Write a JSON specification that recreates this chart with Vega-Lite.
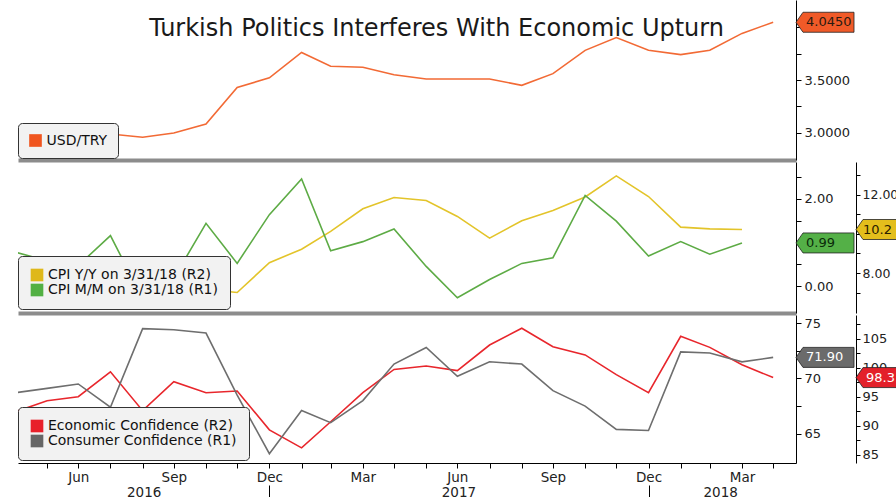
{
  "$schema": "https://vega.github.io/schema/vega-lite/v6.json",
  "background": "white",
  "padding": {"left": 17, "top": 0, "right": 0, "bottom": 0},
  "spacing": 2,
  "config": {
    "font": "DejaVu Sans",
    "view": {"stroke": null},
    "axis": {"grid": false, "title": null, "labelFont": "DejaVu Sans", "labelColor": "#222", "domainColor": "#000", "tickColor": "#000", "labelFlush": false, "labelOverlap": false, "labelBound": false},
    "legend": {"orient": "none", "padding": 12, "fillColor": "#f2f2f2", "strokeColor": "#333", "cornerRadius": 4, "labelFont": "DejaVu Sans", "labelFontSize": 14, "labelColor": "#111", "symbolType": "square", "symbolSize": 160, "symbolStrokeWidth": 0, "rowPadding": 1, "labelOffset": 4, "labelLimit": 400}
  },
  "resolve": {"scale": {"color": "independent"}, "legend": {"color": "independent"}},
  "datasets": {
    "fx": [
      {"date": "2016-04-30", "series": "USD/TRY", "value": 2.83},
      {"date": "2016-05-31", "series": "USD/TRY", "value": 2.95},
      {"date": "2016-06-30", "series": "USD/TRY", "value": 2.88},
      {"date": "2016-07-31", "series": "USD/TRY", "value": 2.99},
      {"date": "2016-08-31", "series": "USD/TRY", "value": 2.96},
      {"date": "2016-09-30", "series": "USD/TRY", "value": 3.00},
      {"date": "2016-10-31", "series": "USD/TRY", "value": 3.085},
      {"date": "2016-11-30", "series": "USD/TRY", "value": 3.43},
      {"date": "2016-12-31", "series": "USD/TRY", "value": 3.52},
      {"date": "2017-01-31", "series": "USD/TRY", "value": 3.76},
      {"date": "2017-02-28", "series": "USD/TRY", "value": 3.63},
      {"date": "2017-03-31", "series": "USD/TRY", "value": 3.62},
      {"date": "2017-04-30", "series": "USD/TRY", "value": 3.55},
      {"date": "2017-05-31", "series": "USD/TRY", "value": 3.51},
      {"date": "2017-06-30", "series": "USD/TRY", "value": 3.51},
      {"date": "2017-07-31", "series": "USD/TRY", "value": 3.51},
      {"date": "2017-08-31", "series": "USD/TRY", "value": 3.45},
      {"date": "2017-09-30", "series": "USD/TRY", "value": 3.56},
      {"date": "2017-10-31", "series": "USD/TRY", "value": 3.78},
      {"date": "2017-11-30", "series": "USD/TRY", "value": 3.90},
      {"date": "2017-12-31", "series": "USD/TRY", "value": 3.78},
      {"date": "2018-01-31", "series": "USD/TRY", "value": 3.74},
      {"date": "2018-02-28", "series": "USD/TRY", "value": 3.78},
      {"date": "2018-03-31", "series": "USD/TRY", "value": 3.94},
      {"date": "2018-04-30", "series": "USD/TRY", "value": 4.045}
    ],
    "cpi": [
      {"date": "2016-04-30", "series": "CPI Y/Y on 3/31/18 (R2)", "value": 6.57},
      {"date": "2016-05-31", "series": "CPI Y/Y on 3/31/18 (R2)", "value": 6.58},
      {"date": "2016-06-30", "series": "CPI Y/Y on 3/31/18 (R2)", "value": 7.64},
      {"date": "2016-07-31", "series": "CPI Y/Y on 3/31/18 (R2)", "value": 8.79},
      {"date": "2016-08-31", "series": "CPI Y/Y on 3/31/18 (R2)", "value": 8.05},
      {"date": "2016-09-30", "series": "CPI Y/Y on 3/31/18 (R2)", "value": 7.28},
      {"date": "2016-10-31", "series": "CPI Y/Y on 3/31/18 (R2)", "value": 7.16},
      {"date": "2016-11-30", "series": "CPI Y/Y on 3/31/18 (R2)", "value": 7.00},
      {"date": "2016-12-31", "series": "CPI Y/Y on 3/31/18 (R2)", "value": 8.53},
      {"date": "2017-01-31", "series": "CPI Y/Y on 3/31/18 (R2)", "value": 9.22},
      {"date": "2017-02-28", "series": "CPI Y/Y on 3/31/18 (R2)", "value": 10.13},
      {"date": "2017-03-31", "series": "CPI Y/Y on 3/31/18 (R2)", "value": 11.29},
      {"date": "2017-04-30", "series": "CPI Y/Y on 3/31/18 (R2)", "value": 11.87},
      {"date": "2017-05-31", "series": "CPI Y/Y on 3/31/18 (R2)", "value": 11.72},
      {"date": "2017-06-30", "series": "CPI Y/Y on 3/31/18 (R2)", "value": 10.90},
      {"date": "2017-07-31", "series": "CPI Y/Y on 3/31/18 (R2)", "value": 9.79},
      {"date": "2017-08-31", "series": "CPI Y/Y on 3/31/18 (R2)", "value": 10.68},
      {"date": "2017-09-30", "series": "CPI Y/Y on 3/31/18 (R2)", "value": 11.20},
      {"date": "2017-10-31", "series": "CPI Y/Y on 3/31/18 (R2)", "value": 11.90},
      {"date": "2017-11-30", "series": "CPI Y/Y on 3/31/18 (R2)", "value": 12.98},
      {"date": "2017-12-31", "series": "CPI Y/Y on 3/31/18 (R2)", "value": 11.92},
      {"date": "2018-01-31", "series": "CPI Y/Y on 3/31/18 (R2)", "value": 10.35},
      {"date": "2018-02-28", "series": "CPI Y/Y on 3/31/18 (R2)", "value": 10.26},
      {"date": "2018-03-31", "series": "CPI Y/Y on 3/31/18 (R2)", "value": 10.23},
      {"date": "2016-04-30", "series": "CPI M/M on 3/31/18 (R1)", "value": 0.78},
      {"date": "2016-05-31", "series": "CPI M/M on 3/31/18 (R1)", "value": 0.58},
      {"date": "2016-06-30", "series": "CPI M/M on 3/31/18 (R1)", "value": 0.47},
      {"date": "2016-07-31", "series": "CPI M/M on 3/31/18 (R1)", "value": 1.16},
      {"date": "2016-08-31", "series": "CPI M/M on 3/31/18 (R1)", "value": -0.29},
      {"date": "2016-09-30", "series": "CPI M/M on 3/31/18 (R1)", "value": 0.18},
      {"date": "2016-10-31", "series": "CPI M/M on 3/31/18 (R1)", "value": 1.44},
      {"date": "2016-11-30", "series": "CPI M/M on 3/31/18 (R1)", "value": 0.52},
      {"date": "2016-12-31", "series": "CPI M/M on 3/31/18 (R1)", "value": 1.64},
      {"date": "2017-01-31", "series": "CPI M/M on 3/31/18 (R1)", "value": 2.46},
      {"date": "2017-02-28", "series": "CPI M/M on 3/31/18 (R1)", "value": 0.81},
      {"date": "2017-03-31", "series": "CPI M/M on 3/31/18 (R1)", "value": 1.02},
      {"date": "2017-04-30", "series": "CPI M/M on 3/31/18 (R1)", "value": 1.31},
      {"date": "2017-05-31", "series": "CPI M/M on 3/31/18 (R1)", "value": 0.45},
      {"date": "2017-06-30", "series": "CPI M/M on 3/31/18 (R1)", "value": -0.27},
      {"date": "2017-07-31", "series": "CPI M/M on 3/31/18 (R1)", "value": 0.15},
      {"date": "2017-08-31", "series": "CPI M/M on 3/31/18 (R1)", "value": 0.52},
      {"date": "2017-09-30", "series": "CPI M/M on 3/31/18 (R1)", "value": 0.65},
      {"date": "2017-10-31", "series": "CPI M/M on 3/31/18 (R1)", "value": 2.08},
      {"date": "2017-11-30", "series": "CPI M/M on 3/31/18 (R1)", "value": 1.49},
      {"date": "2017-12-31", "series": "CPI M/M on 3/31/18 (R1)", "value": 0.69},
      {"date": "2018-01-31", "series": "CPI M/M on 3/31/18 (R1)", "value": 1.02},
      {"date": "2018-02-28", "series": "CPI M/M on 3/31/18 (R1)", "value": 0.73},
      {"date": "2018-03-31", "series": "CPI M/M on 3/31/18 (R1)", "value": 0.99}
    ],
    "conf": [
      {"date": "2016-04-30", "series": "Economic Confidence (R2)", "value": 92.4},
      {"date": "2016-05-31", "series": "Economic Confidence (R2)", "value": 94.3},
      {"date": "2016-06-30", "series": "Economic Confidence (R2)", "value": 95.0},
      {"date": "2016-07-31", "series": "Economic Confidence (R2)", "value": 99.3},
      {"date": "2016-08-31", "series": "Economic Confidence (R2)", "value": 92.6},
      {"date": "2016-09-30", "series": "Economic Confidence (R2)", "value": 97.6},
      {"date": "2016-10-31", "series": "Economic Confidence (R2)", "value": 95.7},
      {"date": "2016-11-30", "series": "Economic Confidence (R2)", "value": 96.0},
      {"date": "2016-12-31", "series": "Economic Confidence (R2)", "value": 89.3},
      {"date": "2017-01-31", "series": "Economic Confidence (R2)", "value": 86.2},
      {"date": "2017-02-28", "series": "Economic Confidence (R2)", "value": 90.7},
      {"date": "2017-03-31", "series": "Economic Confidence (R2)", "value": 95.7},
      {"date": "2017-04-30", "series": "Economic Confidence (R2)", "value": 99.7},
      {"date": "2017-05-31", "series": "Economic Confidence (R2)", "value": 100.3},
      {"date": "2017-06-30", "series": "Economic Confidence (R2)", "value": 99.5},
      {"date": "2017-07-31", "series": "Economic Confidence (R2)", "value": 103.9},
      {"date": "2017-08-31", "series": "Economic Confidence (R2)", "value": 106.8},
      {"date": "2017-09-30", "series": "Economic Confidence (R2)", "value": 103.6},
      {"date": "2017-10-31", "series": "Economic Confidence (R2)", "value": 102.2},
      {"date": "2017-11-30", "series": "Economic Confidence (R2)", "value": 98.8},
      {"date": "2017-12-31", "series": "Economic Confidence (R2)", "value": 95.7},
      {"date": "2018-01-31", "series": "Economic Confidence (R2)", "value": 105.4},
      {"date": "2018-02-28", "series": "Economic Confidence (R2)", "value": 103.5},
      {"date": "2018-03-31", "series": "Economic Confidence (R2)", "value": 100.5},
      {"date": "2018-04-30", "series": "Economic Confidence (R2)", "value": 98.3},
      {"date": "2016-04-30", "series": "Consumer Confidence (R1)", "value": 68.7},
      {"date": "2016-05-31", "series": "Consumer Confidence (R1)", "value": 69.1},
      {"date": "2016-06-30", "series": "Consumer Confidence (R1)", "value": 69.5},
      {"date": "2016-07-31", "series": "Consumer Confidence (R1)", "value": 67.4},
      {"date": "2016-08-31", "series": "Consumer Confidence (R1)", "value": 74.5},
      {"date": "2016-09-30", "series": "Consumer Confidence (R1)", "value": 74.4},
      {"date": "2016-10-31", "series": "Consumer Confidence (R1)", "value": 74.1},
      {"date": "2016-11-30", "series": "Consumer Confidence (R1)", "value": 68.5},
      {"date": "2016-12-31", "series": "Consumer Confidence (R1)", "value": 63.2},
      {"date": "2017-01-31", "series": "Consumer Confidence (R1)", "value": 67.1},
      {"date": "2017-02-28", "series": "Consumer Confidence (R1)", "value": 66.0},
      {"date": "2017-03-31", "series": "Consumer Confidence (R1)", "value": 68.0},
      {"date": "2017-04-30", "series": "Consumer Confidence (R1)", "value": 71.3},
      {"date": "2017-05-31", "series": "Consumer Confidence (R1)", "value": 72.8},
      {"date": "2017-06-30", "series": "Consumer Confidence (R1)", "value": 70.2},
      {"date": "2017-07-31", "series": "Consumer Confidence (R1)", "value": 71.5},
      {"date": "2017-08-31", "series": "Consumer Confidence (R1)", "value": 71.3},
      {"date": "2017-09-30", "series": "Consumer Confidence (R1)", "value": 68.9},
      {"date": "2017-10-31", "series": "Consumer Confidence (R1)", "value": 67.5},
      {"date": "2017-11-30", "series": "Consumer Confidence (R1)", "value": 65.4},
      {"date": "2017-12-31", "series": "Consumer Confidence (R1)", "value": 65.3},
      {"date": "2018-01-31", "series": "Consumer Confidence (R1)", "value": 72.4},
      {"date": "2018-02-28", "series": "Consumer Confidence (R1)", "value": 72.3},
      {"date": "2018-03-31", "series": "Consumer Confidence (R1)", "value": 71.5},
      {"date": "2018-04-30", "series": "Consumer Confidence (R1)", "value": 71.9}
    ]
  },
  "vconcat": [
    {
      "width": 778,
      "height": 160,
      "title": {"text": "Turkish Politics Interferes With Economic Upturn", "font": "DejaVu Sans", "fontSize": 24, "fontWeight": "normal", "color": "#1a1a1a", "anchor": "middle", "frame": "bounds", "offset": -60, "baseline": "alphabetic"},
      "data": {"name": "fx"},
      "encoding": {
        "x": {"field": "date", "type": "temporal", "scale": {"type": "utc", "domain": [{"year": 2016, "month": 5, "date": 3, "utc": true}, {"year": 2018, "month": 5, "date": 22, "utc": true}]}, "axis": {"orient": "bottom", "labels": false, "ticks": false, "domain": true, "domainColor": "#8c8c8c", "domainWidth": 4, "title": null}},
        "y": {"field": "value", "type": "quantitative", "scale": {"domain": [2.745, 4.255], "nice": false, "zero": false}, "axis": {"orient": "right", "values": [3, 3.25, 3.5, 3.75, 4], "labelExpr": "datum.value == 3 || datum.value == 3.5 ? format(datum.value, '.4f') : ''", "tickSize": 5, "labelPadding": 3, "labelFontSize": 13, "labelAlign": "left", "labelBaseline": "middle"}}
      },
      "layer": [
        {"mark": {"type": "line", "strokeWidth": 1.6, "clip": true, "color": "#f26a35"}},
        {"transform": [{"filter": "utcyear(datum.date) == 2018 && utcmonth(datum.date) == 3"}], "mark": {"type": "point", "shape": "M0,0L7,-10L58,-10L58,10L7,10Z", "size": 4, "filled": true, "fill": "#f05a28", "stroke": "#222", "strokeWidth": 0.8, "opacity": 1}, "encoding": {"x": {"value": "width"}}},
        {"transform": [{"filter": "utcyear(datum.date) == 2018 && utcmonth(datum.date) == 3"}], "mark": {"type": "text", "align": "left", "baseline": "middle", "dx": 10, "fontSize": 13, "font": "DejaVu Sans", "color": "#2a1a10"}, "encoding": {"x": {"value": "width"}, "text": {"field": "value", "type": "quantitative", "format": ".4f"}}},
        {"transform": [{"filter": "false"}], "mark": {"type": "square", "opacity": 1, "filled": true}, "encoding": {"color": {"field": "series", "type": "nominal", "scale": {"domain": ["USD/TRY"], "range": ["#f0551f"]}, "legend": {"title": null, "orient": "none", "legendX": 0, "legendY": 123, "padding": 10.5}}}}
      ]
    },
    {
      "width": 778,
      "height": 151,
      "data": {"name": "cpi"},
      "encoding": {
        "x": {"field": "date", "type": "temporal", "scale": {"type": "utc", "domain": [{"year": 2016, "month": 5, "date": 3, "utc": true}, {"year": 2018, "month": 5, "date": 22, "utc": true}]}, "axis": {"orient": "bottom", "labels": false, "ticks": false, "domain": true, "domainColor": "#8c8c8c", "domainWidth": 4, "title": null}}
      },
      "layer": [
        {
          "transform": [{"filter": "datum.series == 'CPI Y/Y on 3/31/18 (R2)'"}],
          "encoding": {"y": {"field": "value", "type": "quantitative", "scale": {"domain": [5.95, 13.69], "nice": false, "zero": false}, "axis": {"orient": "right", "offset": 60, "values": [7, 8, 9, 10, 11, 12, 13], "labelExpr": "datum.value == 8 || datum.value == 12 ? format(datum.value, '.2f') : ''", "tickSize": 4, "labelPadding": 2, "labelFontSize": 12.5, "labelAlign": "left", "labelBaseline": "middle"}}},
          "layer": [
            {"mark": {"type": "line", "strokeWidth": 1.6, "clip": true, "color": "#e3c42a"}},
            {"transform": [{"filter": "utcyear(datum.date) == 2018 && utcmonth(datum.date) == 2"}], "mark": {"type": "point", "shape": "M60,0L67,-10L102,-10L102,10L67,10Z", "size": 4, "filled": true, "fill": "#e3be1c", "stroke": "#222", "strokeWidth": 0.8, "opacity": 1}, "encoding": {"x": {"value": "width"}}},
            {"transform": [{"filter": "utcyear(datum.date) == 2018 && utcmonth(datum.date) == 2"}], "mark": {"type": "text", "align": "left", "baseline": "middle", "dx": 67, "fontSize": 13, "font": "DejaVu Sans", "color": "#2a2000", "limit": 35, "ellipsis": " "}, "encoding": {"x": {"value": "width"}, "text": {"field": "value", "type": "quantitative", "format": ".2f"}}}
          ]
        },
        {
          "transform": [{"filter": "datum.series == 'CPI M/M on 3/31/18 (R1)'"}],
          "encoding": {"y": {"field": "value", "type": "quantitative", "scale": {"domain": [-0.62, 2.85], "nice": false, "zero": false}, "axis": {"orient": "right", "values": [0, 0.5, 1, 1.5, 2, 2.5], "labelExpr": "datum.value == 0 || datum.value == 2 ? format(datum.value, '.2f') : ''", "tickSize": 5, "labelPadding": 3, "labelFontSize": 13, "labelAlign": "left", "labelBaseline": "middle"}}},
          "layer": [
            {"mark": {"type": "line", "strokeWidth": 1.6, "clip": true, "color": "#5dab45"}},
            {"transform": [{"filter": "utcyear(datum.date) == 2018 && utcmonth(datum.date) == 2"}], "mark": {"type": "point", "shape": "M0,0L7,-10L58,-10L58,10L7,10Z", "size": 4, "filled": true, "fill": "#54b047", "stroke": "#222", "strokeWidth": 0.8, "opacity": 1}, "encoding": {"x": {"value": "width"}}},
            {"transform": [{"filter": "utcyear(datum.date) == 2018 && utcmonth(datum.date) == 2"}], "mark": {"type": "text", "align": "left", "baseline": "middle", "dx": 10, "fontSize": 13, "font": "DejaVu Sans", "color": "#0a2a0a"}, "encoding": {"x": {"value": "width"}, "text": {"field": "value", "type": "quantitative", "format": ".2f"}}}
          ]
        },
        {"transform": [{"filter": "false"}], "mark": {"type": "square", "opacity": 1, "filled": true}, "encoding": {"color": {"field": "series", "type": "nominal", "scale": {"domain": ["CPI Y/Y on 3/31/18 (R2)", "CPI M/M on 3/31/18 (R1)"], "range": ["#dfb81a", "#52b043"]}, "legend": {"title": null, "orient": "none", "legendX": 0, "legendY": 94, "padding": 12}}}}
      ],
      "resolve": {"scale": {"y": "independent"}}
    },
    {
      "width": 778,
      "height": 148,
      "data": {"name": "conf"},
      "layer": [
        {
          "transform": [{"filter": "datum.series == 'Economic Confidence (R2)'"}],
          "encoding": {
            "x": {"field": "date", "type": "temporal", "scale": {"type": "utc", "domain": [{"year": 2016, "month": 5, "date": 3, "utc": true}, {"year": 2018, "month": 5, "date": 22, "utc": true}]}, "axis": null},
            "y": {"field": "value", "type": "quantitative", "scale": {"domain": [83.6, 109.07], "nice": false, "zero": false}, "axis": {"orient": "right", "offset": 60, "values": [85, 87.5, 90, 92.5, 95, 97.5, 100, 102.5, 105, 107.5], "labelExpr": "datum.value % 5 == 0 ? format(datum.value, 'd') : ''", "tickSize": 4, "labelPadding": 2, "labelFontSize": 13, "labelAlign": "left", "labelBaseline": "middle"}}
          },
          "layer": [
            {"mark": {"type": "line", "strokeWidth": 1.6, "clip": true, "color": "#e8262c"}},
            {"transform": [{"filter": "utcyear(datum.date) == 2018 && utcmonth(datum.date) == 3"}], "mark": {"type": "point", "shape": "M60,0L67,-10L102,-10L102,10L67,10Z", "size": 4, "filled": true, "fill": "#e3202a", "stroke": "#222", "strokeWidth": 0.8, "opacity": 1}, "encoding": {"x": {"value": "width"}}},
            {"transform": [{"filter": "utcyear(datum.date) == 2018 && utcmonth(datum.date) == 3"}], "mark": {"type": "text", "align": "left", "baseline": "middle", "dx": 70, "fontSize": 13, "font": "DejaVu Sans", "color": "#ffffff", "limit": 31, "ellipsis": " "}, "encoding": {"x": {"value": "width"}, "text": {"field": "value", "type": "quantitative", "format": ".1f"}}}
          ]
        },
        {
          "transform": [{"filter": "datum.series == 'Consumer Confidence (R1)'"}],
          "encoding": {
            "x": {"field": "date", "type": "temporal", "scale": {"type": "utc", "domain": [{"year": 2016, "month": 5, "date": 3, "utc": true}, {"year": 2018, "month": 5, "date": 22, "utc": true}]}, "axis": {"orient": "bottom", "tickSize": 5, "labelPadding": 2, "labelFontSize": 13.5, "domainColor": "#000", "values": [{"year": 2016, "month": 5, "date": 31, "utc": true}, {"year": 2016, "month": 6, "date": 30, "utc": true}, {"year": 2016, "month": 7, "date": 31, "utc": true}, {"year": 2016, "month": 8, "date": 31, "utc": true}, {"year": 2016, "month": 9, "date": 30, "utc": true}, {"year": 2016, "month": 10, "date": 31, "utc": true}, {"year": 2016, "month": 11, "date": 30, "utc": true}, {"year": 2016, "month": 12, "date": 31, "utc": true}, {"year": 2017, "month": 1, "date": 31, "utc": true}, {"year": 2017, "month": 2, "date": 28, "utc": true}, {"year": 2017, "month": 3, "date": 31, "utc": true}, {"year": 2017, "month": 4, "date": 30, "utc": true}, {"year": 2017, "month": 5, "date": 31, "utc": true}, {"year": 2017, "month": 6, "date": 30, "utc": true}, {"year": 2017, "month": 7, "date": 31, "utc": true}, {"year": 2017, "month": 8, "date": 31, "utc": true}, {"year": 2017, "month": 9, "date": 30, "utc": true}, {"year": 2017, "month": 10, "date": 31, "utc": true}, {"year": 2017, "month": 11, "date": 30, "utc": true}, {"year": 2017, "month": 12, "date": 31, "utc": true}, {"year": 2018, "month": 1, "date": 31, "utc": true}, {"year": 2018, "month": 2, "date": 28, "utc": true}, {"year": 2018, "month": 3, "date": 31, "utc": true}, {"year": 2018, "month": 4, "date": 30, "utc": true}], "labelExpr": "indexof(['Mar','Jun','Sep','Dec'], utcFormat(datum.value, '%b')) >= 0 ? utcFormat(datum.value, '%b') : ''"}},
            "y": {"field": "value", "type": "quantitative", "scale": {"domain": [62.36, 75.73], "nice": false, "zero": false}, "axis": {"orient": "right", "values": [65, 67.5, 70, 72.5, 75], "labelExpr": "datum.value % 5 == 0 ? format(datum.value, 'd') : ''", "tickSize": 5, "labelPadding": 3, "labelFontSize": 13, "labelAlign": "left", "labelBaseline": "middle"}}
          },
          "layer": [
            {"mark": {"type": "line", "strokeWidth": 1.6, "clip": true, "color": "#6e6e6e"}},
            {"transform": [{"filter": "utcyear(datum.date) == 2018 && utcmonth(datum.date) == 3"}], "mark": {"type": "point", "shape": "M0,0L7,-10L58,-10L58,10L7,10Z", "size": 4, "filled": true, "fill": "#6b6b6b", "stroke": "#222", "strokeWidth": 0.8, "opacity": 1}, "encoding": {"x": {"value": "width"}}},
            {"transform": [{"filter": "utcyear(datum.date) == 2018 && utcmonth(datum.date) == 3"}], "mark": {"type": "text", "align": "left", "baseline": "middle", "dx": 10, "fontSize": 13, "font": "DejaVu Sans", "color": "#ffffff"}, "encoding": {"x": {"value": "width"}, "text": {"field": "value", "type": "quantitative", "format": ".2f"}}}
          ]
        },
        {
          "transform": [{"filter": "datum.series == 'Consumer Confidence (R1)' && utcyear(datum.date) == 2018 && utcmonth(datum.date) == 3"}],
          "mark": {"type": "rule", "opacity": 0},
          "encoding": {
            "x": {"field": "date", "type": "temporal", "scale": {"type": "utc", "domain": [{"year": 2016, "month": 5, "date": 3, "utc": true}, {"year": 2018, "month": 5, "date": 22, "utc": true}]}, "axis": {"orient": "bottom", "offset": 22, "domain": false, "tickSize": 14, "labelPadding": -14, "labelBaseline": "top", "labelFontSize": 13.5, "values": [{"year": 2016, "month": 9, "date": 1, "utc": true}, {"year": 2016, "month": 12, "date": 31, "utc": true}, {"year": 2017, "month": 7, "date": 1, "utc": true}, {"year": 2017, "month": 12, "date": 31, "utc": true}, {"year": 2018, "month": 3, "date": 10, "utc": true}], "tickOpacity": {"condition": {"test": "utcmonth(datum.value) == 11", "value": 1}, "value": 0}, "labelExpr": "utcmonth(datum.value) == 11 ? '' : utcFormat(datum.value, '%Y')"}}
          }
        },
        {"transform": [{"filter": "false"}], "mark": {"type": "square", "opacity": 1, "filled": true}, "encoding": {"color": {"field": "series", "type": "nominal", "scale": {"domain": ["Economic Confidence (R2)", "Consumer Confidence (R1)"], "range": ["#e8202a", "#666666"]}, "legend": {"title": null, "orient": "none", "legendX": 0, "legendY": 92, "padding": 12}}}}
      ],
      "resolve": {"scale": {"y": "independent"}, "axis": {"x": "independent"}}
    }
  ]
}
